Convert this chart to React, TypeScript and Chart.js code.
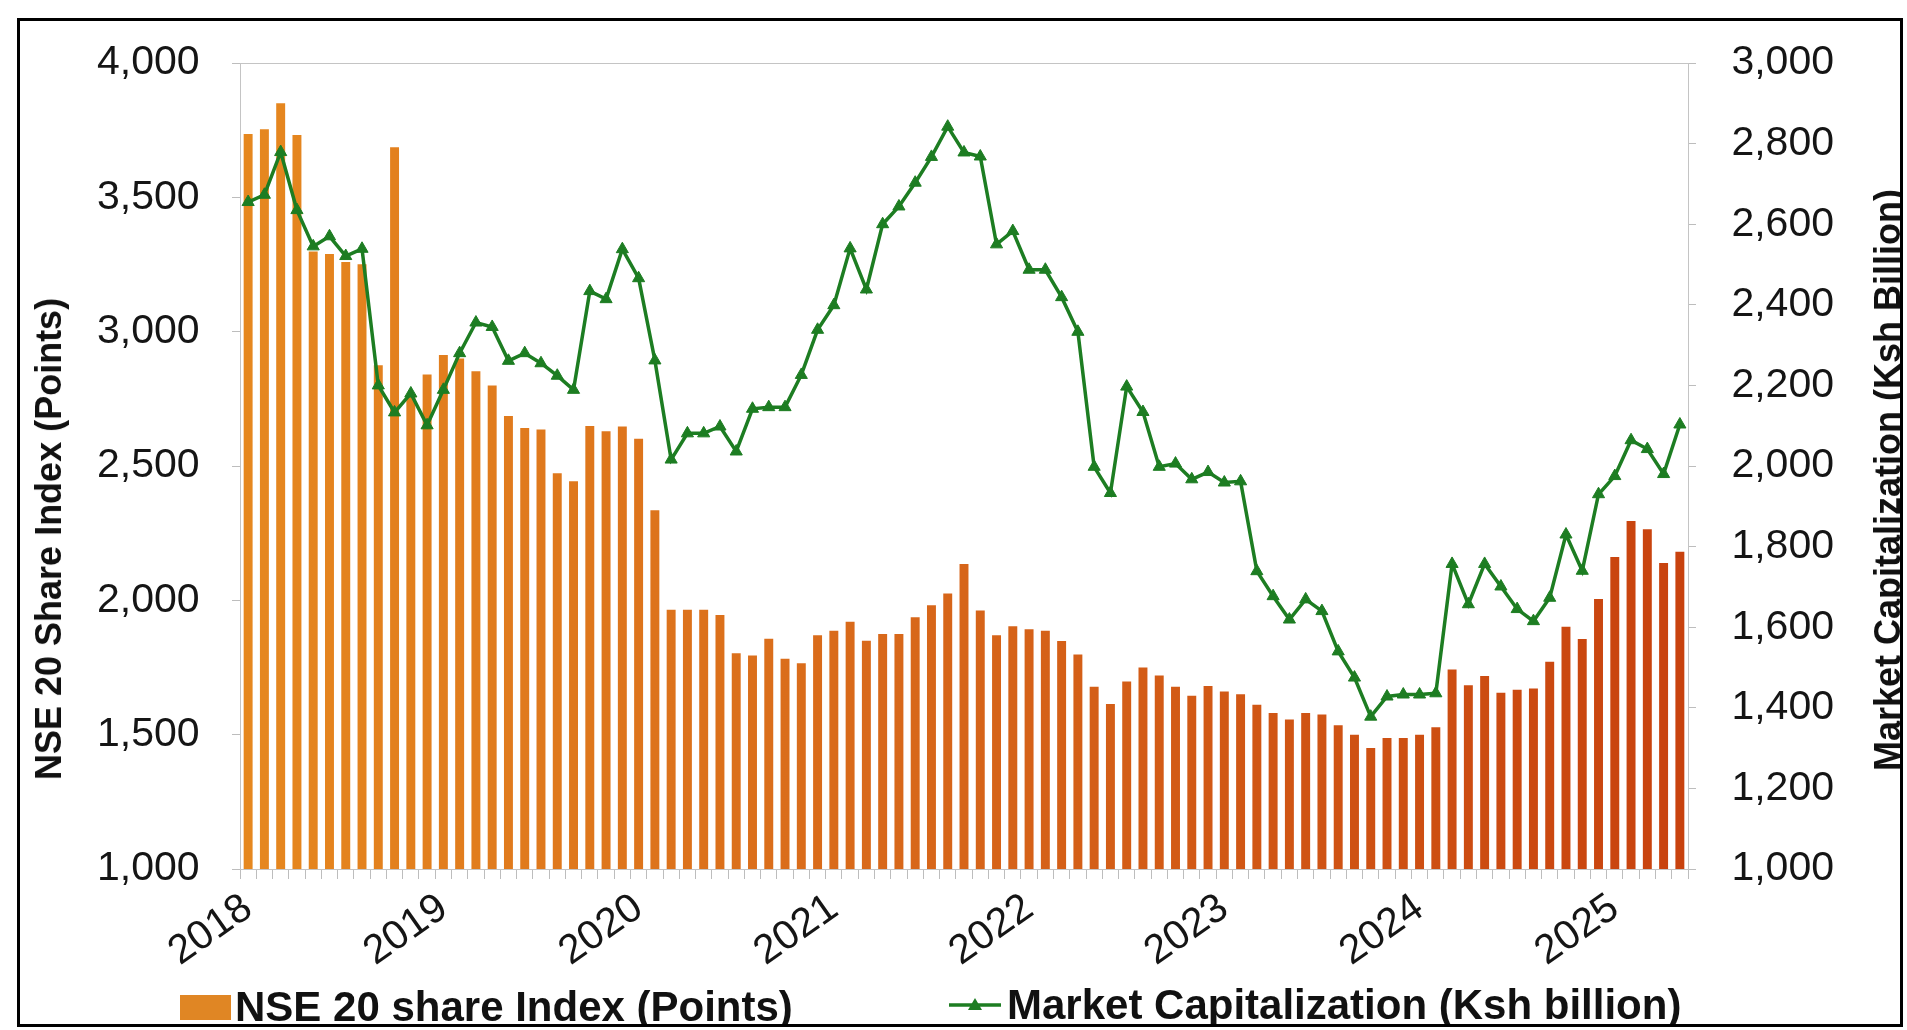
import React, { useEffect, useRef } from 'react';
import { Chart, registerables } from 'chart.js';

Chart.register(...registerables);

const categories = [
  'Jan 2018','Feb 2018','Mar 2018','Apr 2018','May 2018','Jun 2018','Jul 2018','Aug 2018','Sep 2018','Oct 2018','Nov 2018','Dec 2018',
  'Jan 2019','Feb 2019','Mar 2019','Apr 2019','May 2019','Jun 2019','Jul 2019','Aug 2019','Sep 2019','Oct 2019','Nov 2019','Dec 2019',
  'Jan 2020','Feb 2020','Mar 2020','Apr 2020','May 2020','Jun 2020','Jul 2020','Aug 2020','Sep 2020','Oct 2020','Nov 2020','Dec 2020',
  'Jan 2021','Feb 2021','Mar 2021','Apr 2021','May 2021','Jun 2021','Jul 2021','Aug 2021','Sep 2021','Oct 2021','Nov 2021','Dec 2021',
  'Jan 2022','Feb 2022','Mar 2022','Apr 2022','May 2022','Jun 2022','Jul 2022','Aug 2022','Sep 2022','Oct 2022','Nov 2022','Dec 2022',
  'Jan 2023','Feb 2023','Mar 2023','Apr 2023','May 2023','Jun 2023','Jul 2023','Aug 2023','Sep 2023','Oct 2023','Nov 2023','Dec 2023',
  'Jan 2024','Feb 2024','Mar 2024','Apr 2024','May 2024','Jun 2024','Jul 2024','Aug 2024','Sep 2024','Oct 2024','Nov 2024','Dec 2024',
  'Jan 2025','Feb 2025','Mar 2025','Apr 2025','May 2025',
];

const yearTicks = ['2018', '2019', '2020', '2021', '2022', '2023', '2024', '2025'];

const nse20Index = [
  3736, 3753, 3850, 3732, 3298, 3289, 3259, 3251, 2875, 3686, 2760, 2841,
  2913, 2900, 2853, 2800, 2686, 2641, 2636, 2473, 2443, 2649, 2629, 2647,
  2601, 2335, 1965, 1965, 1965, 1945, 1803, 1795, 1857, 1783, 1766, 1870,
  1887, 1920, 1850, 1875, 1875, 1937, 1982, 2025, 2135, 1962, 1870, 1904,
  1892, 1887, 1849, 1798, 1678, 1614, 1698, 1750, 1720, 1678, 1645, 1681,
  1661, 1650, 1611, 1581, 1556, 1581, 1575, 1535, 1500, 1450, 1488, 1488,
  1500, 1528, 1743, 1684, 1718, 1656, 1667, 1672, 1771, 1902, 1856, 2005,
  2161, 2295, 2265, 2139, 2181,
];

const marketCap = [
  2655, 2673, 2779, 2635, 2545, 2570, 2521, 2539, 2200, 2133, 2180, 2101,
  2189, 2280, 2356, 2345, 2261, 2280, 2255, 2224, 2189, 2434, 2414, 2538,
  2466, 2262, 2016, 2081, 2081, 2098, 2036, 2142, 2146, 2146, 2226, 2338,
  2399, 2540, 2438, 2600, 2644, 2703, 2767, 2842, 2778, 2768, 2550, 2583,
  2487, 2487, 2419, 2333, 1998, 1933, 2197, 2134, 1998, 2006, 1967, 1985,
  1959, 1962, 1739, 1677, 1619, 1669, 1640, 1540, 1475, 1378, 1428, 1433,
  1433, 1436, 1757, 1657, 1757, 1701, 1645, 1615, 1673, 1830, 1740, 1930,
  1975, 2064, 2042, 1980, 2103,
];

const seriesNames = ['NSE 20 share Index (Points)', 'Market Capitalization (Ksh billion)'];
const leftTitle = 'NSE 20 Share Index (Points)';
const rightTitle = 'Market Capitalization (Ksh Billion)';

const FONT = "'Liberation Sans', Arial, sans-serif";
const GREEN = '#1d7d22';
const ORANGE = '#dd7a1c';

const plotFrame = {
  id: 'plotFrame',
  beforeDatasetsDraw(chart: any) {
    const { ctx, chartArea } = chart;
    const { left, top, right, bottom } = chartArea;
    ctx.save();
    ctx.strokeStyle = '#c4c4c4';
    ctx.lineWidth = 1;
    ctx.strokeRect(left + 0.5, top + 0.5, right - left, bottom - top);
    ctx.restore();
  },
};

function barFill(context: any) {
  const chart = context.chart;
  const area = chart.chartArea;
  if (!area) return ORANGE;
  const g = chart.ctx.createLinearGradient(area.left, 0, area.right, 0);
  g.addColorStop(0, '#e6881f');
  g.addColorStop(0.45, '#d8681a');
  g.addColorStop(1, '#c8420e');
  return g;
}

export default function App() {
  const ref = useRef<HTMLCanvasElement | null>(null);

  useEffect(() => {
    const prevOverflow = document.body.style.overflow;
    document.body.style.overflow = 'hidden';
    const canvas = ref.current;
    if (!canvas) return;
    const chart = new Chart(canvas, {
      type: 'bar',
      data: {
        labels: categories,
        datasets: [
          {
            type: 'line',
            label: seriesNames[1],
            data: marketCap,
            yAxisID: 'y1',
            borderColor: GREEN,
            backgroundColor: GREEN,
            borderWidth: 3.5,
            pointStyle: 'triangle',
            pointRadius: 7,
            pointBackgroundColor: GREEN,
            pointBorderColor: GREEN,
            pointBorderWidth: 1,
            tension: 0,
            order: 0,
          } as any,
          {
            type: 'bar',
            label: seriesNames[0],
            data: nse20Index,
            yAxisID: 'y',
            backgroundColor: barFill,
            borderWidth: 0,
            barPercentage: 0.55,
            categoryPercentage: 1,
            order: 1,
          } as any,
        ],
      },
      options: {
        responsive: false,
        animation: false,
        devicePixelRatio: 1,
        layout: { padding: { top: 42, bottom: 30, left: 77, right: 66 } },
        plugins: {
          legend: { display: false },
          tooltip: { enabled: false },
        },
        scales: {
          x: {
            type: 'category',
            offset: true,
            afterFit: (s: any) => { s.height = 125; },
            grid: { drawOnChartArea: false, offset: true, tickLength: 10, color: '#bdbdbd' },
            border: { color: '#bdbdbd' },
            ticks: {
              autoSkip: false,
              minRotation: 35,
              maxRotation: 35,
              padding: 5,
              color: '#151515',
              font: { family: FONT, size: 41 },
              callback: (_v: any, i: number) => (i % 12 === 0 ? yearTicks[i / 12] : ''),
            },
          },
          y: {
            position: 'left',
            min: 1000,
            max: 4000,
            afterFit: (s: any) => { s.width = 143; },
            grid: { drawOnChartArea: false, tickLength: 8, color: '#bdbdbd' },
            border: { color: '#bdbdbd' },
            ticks: {
              stepSize: 500,
              padding: 0,
              crossAlign: 'far',
              color: '#151515',
              font: { family: FONT, size: 41 },
            },
          },
          y1: {
            position: 'right',
            min: 1000,
            max: 3000,
            afterFit: (s: any) => { s.width = 146; },
            grid: { drawOnChartArea: false, tickLength: 8, color: '#bdbdbd' },
            border: { color: '#bdbdbd' },
            ticks: {
              stepSize: 200,
              padding: 0,
              crossAlign: 'far',
              color: '#151515',
              font: { family: FONT, size: 41 },
            },
          },
        },
      } as any,
      plugins: [plotFrame],
    });
    return () => {
      chart.destroy();
      document.body.style.overflow = prevOverflow;
    };
  }, []);

  const legendText: React.CSSProperties = {
    fontFamily: FONT,
    fontWeight: 'bold',
    fontSize: 42,
    color: '#111',
    lineHeight: '44px',
    whiteSpace: 'nowrap',
  };

  const axisTitle: React.CSSProperties = {
    position: 'absolute',
    transform: 'translate(-50%, -50%) rotate(-90deg)',
    fontFamily: FONT,
    fontWeight: 'bold',
    fontSize: 36,
    lineHeight: '36px',
    color: '#111',
    whiteSpace: 'nowrap',
  };

  return (
    <div
      style={{
        position: 'fixed',
        left: 17,
        top: 18,
        width: 1886,
        height: 1009,
        border: '3px solid #000',
        boxSizing: 'border-box',
        background: '#fff',
        overflow: 'hidden',
      }}
    >
      <canvas ref={ref} width={1880} height={1003} style={{ display: 'block', width: 1880, height: 1003 }} />
      <div style={{ ...axisTitle, left: 29, top: 518 }}>{leftTitle}</div>
      <div style={{ ...axisTitle, left: 1868, top: 459 }}>{rightTitle}</div>
      <div style={{ position: 'absolute', left: 160, top: 964, display: 'flex', alignItems: 'center' }}>
        <span style={{ display: 'inline-block', width: 51, height: 25, background: '#e08624', marginRight: 4 }} />
        <span style={legendText}>{seriesNames[0]}</span>
      </div>
      <div style={{ position: 'absolute', left: 929, top: 962, display: 'flex', alignItems: 'center' }}>
        <svg width={52} height={24} style={{ marginRight: 6 }}>
          <line x1={0} y1={12} x2={52} y2={12} stroke={GREEN} strokeWidth={3.5} />
          <polygon points="26,5 33,17 19,17" fill={GREEN} />
        </svg>
        <span style={legendText}>{seriesNames[1]}</span>
      </div>
    </div>
  );
}
